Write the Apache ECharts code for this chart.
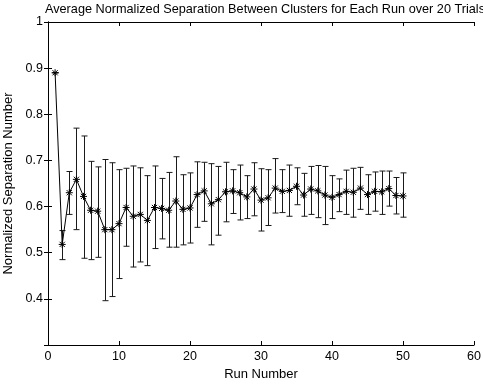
<!DOCTYPE html>
<html>
<head>
<meta charset="utf-8">
<script src="https://cdn.jsdelivr.net/npm/echarts@6/dist/echarts.min.js"></script>
<style>
html,body{margin:0;padding:0;background:#fff;}
#chart{width:483px;height:384px;}
</style>
</head>
<body>
<div id="chart"></div>
<script>
var runs = [1,2,3,4,5,6,7,8,9,10,11,12,13,14,15,16,17,18,19,20,21,22,23,24,25,26,27,28,29,30,31,32,33,34,35,36,37,38,39,40,41,42,43,44,45,46,47,48,49,50];
var means = [0.890,0.518,0.630,0.659,0.622,0.592,0.590,0.550,0.550,0.563,0.598,0.579,0.583,0.570,0.598,0.596,0.592,0.612,0.594,0.597,0.626,0.634,0.606,0.615,0.632,0.634,0.630,0.621,0.638,0.614,0.619,0.640,0.633,0.635,0.644,0.625,0.638,0.634,0.625,0.620,0.626,0.633,0.631,0.640,0.626,0.633,0.632,0.639,0.624,0.623];
var upper = [0.890,0.548,0.676,0.770,0.753,0.698,0.686,0.702,0.695,0.680,0.683,0.688,0.684,0.667,0.688,0.661,0.674,0.708,0.669,0.673,0.697,0.696,0.693,0.687,0.696,0.680,0.690,0.667,0.695,0.682,0.680,0.704,0.680,0.690,0.684,0.672,0.687,0.689,0.687,0.667,0.660,0.679,0.683,0.685,0.669,0.675,0.677,0.677,0.663,0.673];
var lower = [0.890,0.485,0.583,0.550,0.488,0.485,0.490,0.396,0.405,0.444,0.514,0.469,0.480,0.472,0.509,0.530,0.512,0.512,0.517,0.521,0.555,0.568,0.517,0.538,0.567,0.585,0.571,0.574,0.580,0.547,0.559,0.586,0.587,0.579,0.604,0.579,0.583,0.576,0.561,0.574,0.589,0.583,0.577,0.594,0.583,0.590,0.583,0.601,0.584,0.577];
var title = 'Average Normalized Separation Between Clusters for Each Run over 20 Trials';
var xName = 'Run Number';
var yName = 'Normalized Separation Number';

var FONT = 'Liberation Sans';
var lineData = runs.map(function(r,i){return [r, means[i]];});
var errData = runs.map(function(r,i){return [r, lower[i], upper[i]];});

var chart = echarts.init(document.getElementById('chart'), null, {renderer:'canvas'});

function axisCommon(){
  return {
    axisLine:{show:true, lineStyle:{color:'#000', width:1}},
    axisTick:{show:true, inside:true, length:4, lineStyle:{color:'#000', width:1}},
    splitLine:{show:false}
  };
}

var xBottom = Object.assign(axisCommon(), {
  type:'value', min:0, max:60, interval:10, position:'bottom',
  axisLabel:{color:'#000', fontFamily:FONT, fontSize:12.5, margin:5},
  name:xName, nameLocation:'middle', nameGap:23,
  nameTextStyle:{color:'#000', fontFamily:FONT, fontSize:13}
});
var xTop = Object.assign(axisCommon(), {
  type:'value', min:0, max:60, interval:10, position:'top',
  axisLabel:{show:false}
});
var yLeft = Object.assign(axisCommon(), {
  type:'value', min:0.3, max:1, interval:0.1, position:'left',
  axisLabel:{color:'#000', fontFamily:FONT, fontSize:12.5, margin:5,
    formatter:function(v){
      var r = Math.round(v*10)/10;
      if (Math.abs(r-0.3)<1e-9) return '';
      if (Math.abs(r-1)<1e-9) return '1';
      return r.toFixed(1);
    }},
  name:yName, nameLocation:'middle', nameGap:29,
  nameTextStyle:{color:'#000', fontFamily:FONT, fontSize:13}
});
var yRight = Object.assign(axisCommon(), {
  type:'value', min:0.3, max:1, interval:0.1, position:'right',
  axisLabel:{show:false}
});

chart.setOption({
  animation:false,
  backgroundColor:'#fff',
  graphic:[{type:'text', x:265, y:3, silent:true,
    style:{text:title, textAlign:'center', textVerticalAlign:'top', fill:'#000',
      fontFamily:FONT, fontSize:12.7}}],
  grid:{left:48, right:9, top:22, bottom:39, show:false, containLabel:false, outerBoundsMode:'none'},
  xAxis:[xBottom, xTop],
  yAxis:[yLeft, yRight],
  series:[
    {
      type:'custom', xAxisIndex:0, yAxisIndex:0, data:errData, z:2,
      renderItem:function(params, api){
        var x = api.value(0);
        var lo = api.coord([x, api.value(1)]);
        var hi = api.coord([x, api.value(2)]);
        var cx = Math.round(lo[0]) + 0.5;
        var w = 3;
        var st = {stroke:'#1a1a1a', lineWidth:1};
        return {type:'group', children:[
          {type:'line', shape:{x1:cx, y1:lo[1], x2:cx, y2:hi[1]}, style:st},
          {type:'line', shape:{x1:cx-w, y1:lo[1], x2:cx+w, y2:lo[1]}, style:st},
          {type:'line', shape:{x1:cx-w, y1:hi[1], x2:cx+w, y2:hi[1]}, style:st}
        ]};
      }
    },
    {
      type:'line', xAxisIndex:0, yAxisIndex:0, data:lineData, z:3,
      showSymbol:false, symbol:'none',
      lineStyle:{color:'#000', width:1}
    },
    {
      type:'custom', xAxisIndex:0, yAxisIndex:0, data:lineData, z:4,
      renderItem:function(params, api){
        var p = api.coord([api.value(0), api.value(1)]);
        var r = 3.5, d = 2.6;
        var st = {stroke:'#000', lineWidth:1};
        return {type:'group', children:[
          {type:'line', shape:{x1:p[0]-r, y1:p[1], x2:p[0]+r, y2:p[1]}, style:st},
          {type:'line', shape:{x1:p[0], y1:p[1]-r, x2:p[0], y2:p[1]+r}, style:st},
          {type:'line', shape:{x1:p[0]-d, y1:p[1]-d, x2:p[0]+d, y2:p[1]+d}, style:st},
          {type:'line', shape:{x1:p[0]-d, y1:p[1]+d, x2:p[0]+d, y2:p[1]-d}, style:st}
        ]};
      }
    }
  ]
});
</script>
</body>
</html>
